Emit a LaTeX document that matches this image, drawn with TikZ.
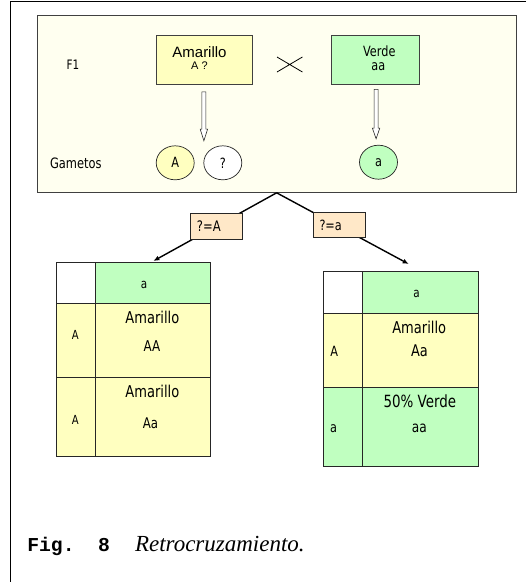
\documentclass[tikz,border=0pt]{standalone}
\usepackage{fontspec}
\setmainfont{DejaVu Sans}
\newfontfamily\tah[FakeStretch=0.8]{DejaVu Sans}
\newfontfamily\ari{Liberation Sans}
\newfontfamily\cou{Liberation Mono}
\newfontfamily\tim{Liberation Serif}
\usetikzlibrary{shapes.geometric,arrows.meta,calc}
\definecolor{cream}{HTML}{FFFFF0}
\definecolor{yel}{HTML}{FFFFC0}
\definecolor{grn}{HTML}{C0FFC0}
\definecolor{peach}{HTML}{FFE8C8}
\begin{document}
\begin{tikzpicture}[x=1pt,y=-1pt,
  box/.style={draw=black!75,line width=0.8pt,inner sep=0,anchor=north west},
  cell/.style={draw=black!85,line width=0.9pt,inner sep=0,anchor=north west},
  txt/.style={inner sep=0,anchor=base,font=\tah\fontsize{#1}{#1}\selectfont},
  txt/.default=12,
  gam/.style={ellipse,draw=black!85,line width=0.7pt,minimum width=38pt,minimum height=34pt,inner sep=0,font=\tah\fontsize{14.1}{14}\selectfont},
  lab/.style={draw=black!85,fill=peach,line width=0.8pt,minimum width=52.3pt,minimum height=25.3pt,inner sep=0},
  conn/.style={line width=1.4pt,-{Latex[length=6pt,width=5pt]}},
  hollow/.style={draw=black!85,fill=white,line width=0.6pt}]
\useasboundingbox (0,0) rectangle (531,582);
% outer frame
\coordinate (fr1) at (526,1.2); \coordinate (fr2) at (10.2,1.2); \coordinate (fr3) at (10.2,582);
\draw[line width=1pt] (fr1) -- (fr2) -- (fr3);
% top panel
\node[box,fill=cream,minimum width=479.5pt,minimum height=177pt] (panel) at (36.5,15) {};
\node[txt=13] (f1) at (73,69.3) {F1};
\node[txt=14.3] (gamt) at (75.8,168.3) {Gametos};
\node[box,fill=yel,minimum width=96pt,minimum height=48.5pt] (amar) at (155.5,35) {};
\node[inner sep=0,anchor=base,font=\ari\fontsize{15}{15}\selectfont] (amart) at (199.5,57.5) {Amarillo};
\node[inner sep=0,anchor=base,font=\ari\fontsize{11}{11}\selectfont] (amarg) at (199.5,69.5) {A ?};
\node[box,fill=grn,minimum width=88pt,minimum height=49pt] (verde) at (331,34.5) {};
\node[txt=14.1] (verdet) at (379.3,56.7) {Verde};
\node[txt=14.1] (verdeg) at (378.3,70.7) {aa};
\coordinate (x1) at (277,57); \coordinate (x2) at (302.4,72);
\coordinate (x3) at (277,72); \coordinate (x4) at (302.4,57);
\draw[line width=0.8pt] (x1) -- (x2) (x3) -- (x4);
% hollow arrows
\draw[hollow] ($(amar.south)+(0,7.5)$) ++(-2,0) -- ++(0,37.3) -- ++(-1.7,0) -- ++(3.7,11.7) -- ++(3.7,-11.7) -- ++(-1.7,0) -- ++(0,-37.3) -- cycle;
\draw[hollow] ($(verde.south)+(0.7,5)$) ++(-2,0) -- ++(0,38.8) -- ++(-1.7,0) -- ++(3.7,10.7) -- ++(3.7,-10.7) -- ++(-1.7,0) -- ++(0,-38.8) -- cycle;
% gametes
\node[gam,fill=yel] (gA) at (175.2,162.8) {A};
\node[gam,fill=white] (gQ) at (222.8,162.8) {?};
\node[gam,fill=grn] (ga) at (378.5,162.2) {a};
% connectors
\coordinate (tipL) at (153.4,261);
\coordinate (tipR) at (408.7,264);
\draw[conn] (panel.south) -- (tipL);
\draw[conn] (panel.south) -- (tipR);
\node[lab,anchor=north west] (labA) at (190,213.3) {};
\node[txt=14.5,anchor=base west] (labAt) at (196.7,231) {?=A};
\node[lab,anchor=north west] (laba) at (312.7,211.7) {};
\node[txt=14.1,anchor=base west] (labat) at (319.3,230) {?=a};
% left table
\node[cell,fill=white,minimum width=38.6pt,minimum height=41pt] (L00) at (55.9,262) {};
\node[cell,fill=grn,minimum width=115.8pt,minimum height=41pt] (L01) at (94.5,262) {};
\node[cell,fill=yel,minimum width=38.6pt,minimum height=74pt] (L10) at (55.9,303) {};
\node[cell,fill=yel,minimum width=115.8pt,minimum height=74pt] (L11) at (94.5,303) {};
\node[cell,fill=yel,minimum width=38.6pt,minimum height=79pt] (L20) at (55.9,377) {};
\node[cell,fill=yel,minimum width=115.8pt,minimum height=79pt] (L21) at (94.5,377) {};
\node[txt=13] (tL01) at (144,288) {a};
\node[txt=12.5] (tL10) at (75.2,339) {A};
\node[txt=16.3] (tL11a) at (152.4,323) {Amarillo};
\node[txt=14.9] (tL11b) at (152,351) {AA};
\node[txt=12.5] (tL20) at (75.2,424) {A};
\node[txt=16.3] (tL21a) at (152.4,397) {Amarillo};
\node[txt=14.7] (tL21b) at (150.5,428) {Aa};
% right table
\node[cell,fill=white,minimum width=38.3pt,minimum height=42pt] (R00) at (323.4,271) {};
\node[cell,fill=grn,minimum width=115.8pt,minimum height=42pt] (R01) at (361.7,271) {};
\node[cell,fill=yel,minimum width=38.3pt,minimum height=74pt] (R10) at (323.4,313) {};
\node[cell,fill=yel,minimum width=115.8pt,minimum height=74pt] (R11) at (361.7,313) {};
\node[cell,fill=grn,minimum width=38.3pt,minimum height=79pt] (R20) at (323.4,387) {};
\node[cell,fill=grn,minimum width=115.8pt,minimum height=79pt] (R21) at (361.7,387) {};
\node[txt=13] (tR01) at (416.6,297) {a};
\node[txt=14.1,anchor=base west] (tR10) at (330.2,356) {A};
\node[txt=16.3] (tR11a) at (419.2,333) {Amarillo};
\node[txt=16.1] (tR11b) at (419.4,356) {Aa};
\node[txt=14.1,anchor=base west] (tR20) at (330,432) {a};
\node[txt=16.8] (tR21a) at (419.9,407) {50\% Verde};
\node[txt=15.2] (tR21b) at (419.4,432) {aa};
% caption
\node[inner sep=0,anchor=base west,font=\cou\bfseries\fontsize{19.7}{20}\selectfont] (fig) at (27.1,551.7) {Fig.\ \ 8};
\node[inner sep=0,anchor=base west,font=\tim\itshape\fontsize{23}{23}\selectfont] (cap) at (134.8,551.7) {Retrocruzamiento.};
\end{tikzpicture}
\end{document}
